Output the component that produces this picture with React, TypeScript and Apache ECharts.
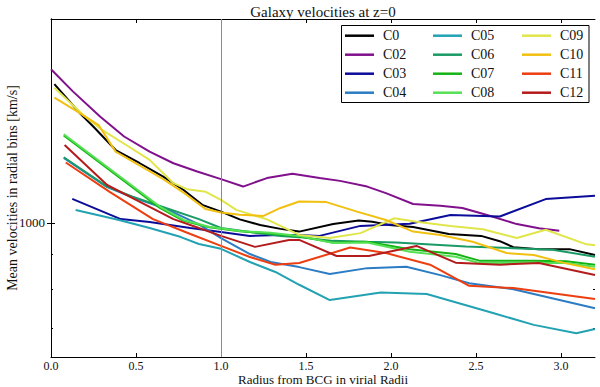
import React, { useEffect, useRef } from 'react';
import * as echarts from 'echarts';

const TITLE = 'Galaxy velocities at z=0';
const X_NAME = 'Radius from BCG in virial Radii';
const Y_NAME = 'Mean velocities in radial bins [km/s]';
const X_TICKS = [0, 0.5, 1, 1.5, 2, 2.5, 3];
const Y_LABELS = [1000];
const Y_MINOR = [700, 800, 900];
const X_MIN = 0;
const X_MAX = 3.2;
const Y_MIN = 635;
const Y_MAX = 1995;
const VLINE_X = 1.0;

const NAMES = ['C0', 'C02', 'C03', 'C04', 'C05', 'C06', 'C07', 'C08', 'C09', 'C10', 'C11', 'C12'];
const COLORS = ['#000000', '#80108c', '#0c0c9a', '#2c7cc4', '#22a2b2', '#1a9a64', '#14b414', '#55e055', '#e0e64a', '#f2c010', '#ec3e10', '#b41c1c'];
const LEGEND_COLUMNS = [
  ['C0', 'C02', 'C03', 'C04'],
  ['C05', 'C06', 'C07', 'C08'],
  ['C09', 'C10', 'C11', 'C12'],
];

const X_C0 = [0.02, 0.17, 0.25, 0.38, 0.52, 0.66, 0.78, 0.89, 1.0, 1.11, 1.23, 1.35, 1.46, 1.66, 1.81, 1.89, 1.99, 2.13, 2.34, 2.53, 2.64, 2.72, 2.87, 3.05, 3.2];
const V_C0 = [1600, 1450, 1385, 1280, 1225, 1170, 1118, 1063, 1039, 1012, 993, 980, 971, 996, 1008, 1004, 993, 986, 963, 957, 940, 921, 915, 915, 897];

const X_C02 = [0.0, 0.13, 0.29, 0.43, 0.58, 0.72, 0.86, 1.0, 1.13, 1.27, 1.42, 1.58, 1.7, 1.86, 1.97, 2.13, 2.29, 2.42, 2.56, 2.74, 2.87, 2.99];
const V_C02 = [1683, 1560, 1433, 1340, 1273, 1224, 1190, 1160, 1131, 1164, 1181, 1164, 1153, 1131, 1106, 1066, 1060, 1052, 1028, 996, 982, 974];

const X_C03 = [0.125, 0.41, 0.58, 0.82, 1.0, 1.17, 1.35, 1.46, 1.58, 1.82, 2.11, 2.35, 2.64, 2.91, 3.2];
const V_C03 = [1085, 1013, 1003, 983, 970, 957, 960, 960, 957, 990, 997, 1027, 1022, 1084, 1096];

const X_C04 = [0.075, 0.33, 0.48, 0.68, 0.87, 1.0, 1.17, 1.3, 1.46, 1.64, 1.86, 2.09, 2.29, 2.46, 2.72, 3.2];
const V_C04 = [1246, 1129, 1091, 1048, 995, 950, 900, 875, 861, 841, 858, 862, 838, 815, 799, 749];

const X_C05 = [0.145, 0.4, 0.58, 0.76, 0.87, 1.0, 1.17, 1.32, 1.46, 1.64, 1.94, 2.21, 2.4, 2.6, 2.84, 3.09, 3.2];
const V_C05 = [1045, 1010, 983, 954, 931, 916, 876, 847, 811, 770, 790, 786, 762, 737, 708, 688, 698];

const X_C06 = [0.075, 0.33, 0.48, 0.68, 0.87, 1.0, 1.17, 1.35, 1.46, 1.66, 1.85, 2.03, 2.44, 2.72, 2.95, 3.2];
const V_C06 = [1249, 1131, 1093, 1051, 1013, 983, 970, 957, 953, 941, 938, 936, 923, 918, 913, 892];

const X_C07 = [0.075, 0.64, 0.78, 0.93, 1.11, 1.29, 1.46, 1.66, 1.86, 2.11, 2.38, 2.52, 2.84, 3.03, 3.2];
const V_C07 = [1345, 1052, 1007, 985, 972, 965, 955, 936, 938, 915, 900, 880, 880, 878, 868];

const X_C08 = [0.075, 0.64, 0.78, 0.93, 1.11, 1.29, 1.46, 1.66, 1.86, 2.11, 2.38, 2.52, 2.84, 3.03, 3.2];
const V_C08 = [1350, 1057, 1010, 987, 973, 967, 957, 934, 936, 907, 892, 873, 873, 873, 862];

const X_C09 = [0.02, 0.19, 0.3, 0.44, 0.58, 0.72, 0.8, 0.91, 1.0, 1.09, 1.27, 1.46, 1.64, 1.82, 2.02, 2.15, 2.35, 2.54, 2.74, 2.91, 3.15, 3.2];
const V_C09 = [1581, 1441, 1370, 1303, 1238, 1144, 1121, 1111, 1081, 1045, 1012, 960, 950, 966, 1016, 1004, 990, 979, 950, 977, 930, 927];

const X_C10 = [0.02, 0.17, 0.28, 0.38, 0.52, 0.66, 0.78, 0.91, 1.0, 1.11, 1.25, 1.35, 1.46, 1.62, 1.8, 1.97, 2.13, 2.29, 2.48, 2.68, 2.84, 3.03, 3.2];
const V_C10 = [1529, 1450, 1393, 1273, 1215, 1160, 1108, 1048, 1036, 1028, 1024, 1052, 1075, 1073, 1039, 1010, 971, 960, 938, 903, 897, 872, 855];

const X_C11 = [0.087, 0.345, 0.6, 0.82, 1.0, 1.17, 1.32, 1.46, 1.76, 1.97, 2.23, 2.46, 2.72, 3.2];
const V_C11 = [1227, 1111, 1013, 963, 925, 891, 868, 873, 920, 903, 868, 808, 802, 773];

const X_C12 = [0.08, 0.33, 0.52, 0.72, 0.87, 1.0, 1.2, 1.4, 1.46, 1.68, 1.87, 2.15, 2.38, 2.64, 2.87, 3.2];
const V_C12 = [1302, 1137, 1075, 1013, 983, 957, 922, 944, 944, 894, 894, 925, 874, 868, 873, 838];

const SERIES_X = [X_C0, X_C02, X_C03, X_C04, X_C05, X_C06, X_C07, X_C08, X_C09, X_C10, X_C11, X_C12];
const SERIES_V = [V_C0, V_C02, V_C03, V_C04, V_C05, V_C06, V_C07, V_C08, V_C09, V_C10, V_C11, V_C12];

const FONT = '"Liberation Serif", "DejaVu Serif", serif';

export default function App() {
  const ref = useRef<HTMLDivElement>(null);

  useEffect(() => {
    if (!ref.current) return;
    const chart = echarts.init(ref.current, undefined, { renderer: 'svg' });

    const series: any[] = NAMES.map((name, i) => {
      const s: any = {
        name,
        type: 'line',
        xAxisIndex: 0,
        yAxisIndex: 0,
        data: SERIES_X[i].map((x, k) => [x, SERIES_V[i][k]]),
        symbol: 'none',
        showSymbol: false,
        color: COLORS[i],
        lineStyle: { color: COLORS[i], width: 2 },
        emphasis: { disabled: true },
        silent: true,
      };
      if (i === 0) {
        s.markLine = {
          silent: true,
          symbol: ['none', 'none'],
          label: { show: false },
          lineStyle: { color: '#8c8c8c', width: 1, type: 'solid' },
          emphasis: { disabled: true },
          data: [{ xAxis: VLINE_X }],
        };
      }
      return s;
    });

    const yBase = {
      type: 'log',
      logBase: 10,
      min: Y_MIN,
      max: Y_MAX,
      splitLine: { show: false },
    };

    const legends = LEGEND_COLUMNS.map((col, ci) => ({
      orient: 'vertical',
      left: [345, 433, 522][ci],
      top: 28.7,
      padding: 0,
      itemGap: 5,
      itemWidth: 29,
      itemHeight: 2.5,
      icon: 'rect',
      selectedMode: false,
      data: col,
      textStyle: {
        fontFamily: FONT,
        fontSize: 14,
        lineHeight: 14,
        color: '#111',
        padding: [0, 0, 0, 4],
      },
    }));

    chart.setOption({
      animation: false,
      backgroundColor: '#ffffff',
      title: {
        text: TITLE,
        left: 323,
        textAlign: 'center',
        top: 4,
        padding: 0,
        textStyle: { fontFamily: FONT, fontSize: 15, fontWeight: 'normal', color: '#111' },
      },
      grid: { left: 51, right: 5, top: 19, bottom: 30, containLabel: false, outerBoundsMode: 'none' },
      legend: legends,
      graphic: [
        {
          type: 'rect',
          z: 3,
          shape: { x: 341.5, y: 25.5, width: 247.5, height: 77 },
          style: { fill: '#ffffff', stroke: '#000000', lineWidth: 1 },
          silent: true,
        },
      ],
      xAxis: [
        {
          type: 'value',
          position: 'bottom',
          min: X_MIN,
          max: X_MAX,
          name: X_NAME,
          nameLocation: 'middle',
          nameGap: 16,
          nameMoveOverlap: false,
          nameTextStyle: { fontFamily: FONT, fontSize: 13, lineHeight: 13, color: '#111' },
          axisLine: { show: true, lineStyle: { color: '#000', width: 1 } },
          axisTick: { show: true, inside: true, length: 4, customValues: X_TICKS, lineStyle: { color: '#000' } },
          axisLabel: {
            show: true,
            customValues: X_TICKS,
            margin: 3,
            fontFamily: FONT,
            fontSize: 12,
            lineHeight: 12,
            color: '#111',
            formatter: (v: number) => v.toFixed(1),
          },
          splitLine: { show: false },
        },
        {
          type: 'value',
          position: 'top',
          min: X_MIN,
          max: X_MAX,
          axisLine: { show: true, lineStyle: { color: '#000', width: 1 } },
          axisTick: { show: true, inside: true, length: 4, customValues: X_TICKS, lineStyle: { color: '#000' } },
          axisLabel: { show: false },
          splitLine: { show: false },
        },
      ],
      yAxis: [
        {
          ...yBase,
          position: 'left',
          name: Y_NAME,
          nameLocation: 'middle',
          nameGap: 32,
          nameRotate: 90,
          nameMoveOverlap: false,
          nameTextStyle: { fontFamily: FONT, fontSize: 14, color: '#111' },
          axisLine: { show: true, lineStyle: { color: '#000', width: 1 } },
          axisTick: { show: true, inside: true, length: 4, customValues: Y_LABELS, lineStyle: { color: '#000' } },
          axisLabel: {
            show: true,
            customValues: Y_LABELS,
            margin: 6,
            fontFamily: FONT,
            fontSize: 13,
            color: '#111',
            formatter: (v: number) => String(Math.round(v)),
          },
        },
        {
          ...yBase,
          position: 'right',
          axisLine: { show: true, lineStyle: { color: '#000', width: 1 } },
          axisTick: { show: true, inside: true, length: 4, customValues: Y_LABELS, lineStyle: { color: '#000' } },
          axisLabel: { show: false },
        },
        {
          ...yBase,
          position: 'left',
          axisLine: { show: false },
          axisTick: { show: true, inside: true, length: 2, customValues: Y_MINOR, lineStyle: { color: '#000' } },
          axisLabel: { show: false },
        },
        {
          ...yBase,
          position: 'right',
          axisLine: { show: false },
          axisTick: { show: true, inside: true, length: 2, customValues: Y_MINOR, lineStyle: { color: '#000' } },
          axisLabel: { show: false },
        },
      ],
      series,
    });

    return () => {
      chart.dispose();
    };
  }, []);

  return (
    <div
      ref={ref}
      style={{ position: 'absolute', left: 0, top: 0, width: 600, height: 387, background: '#fff' }}
    />
  );
}
